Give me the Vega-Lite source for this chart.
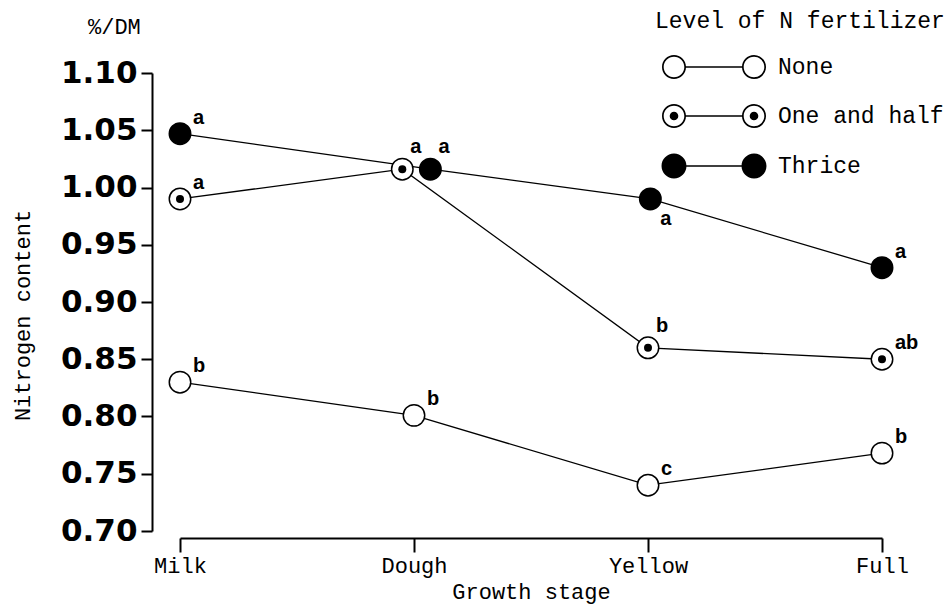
{
  "$schema": "https://vega.github.io/schema/vega-lite/v6.json",
  "width": 702,
  "height": 458,
  "autosize": {"type": "none"},
  "padding": {"left": 180, "top": 73, "right": 68, "bottom": 78},
  "background": "white",
  "title": {
    "text": "%/DM",
    "anchor": "start",
    "frame": "group",
    "align": "left",
    "font": "Liberation Mono",
    "fontSize": 22,
    "fontWeight": "normal",
    "color": "black",
    "dx": -92,
    "dy": 39,
    "offset": 10
  },
  "config": {
    "view": {"stroke": null},
    "legend": {
      "orient": "none",
      "legendX": 475,
      "legendY": -63,
      "padding": 0,
      "titleFont": "Liberation Mono",
      "titleFontSize": 23,
      "titleFontWeight": "normal",
      "titleColor": "black",
      "titlePadding": 22,
      "titleLimit": 0,
      "labelFont": "Liberation Mono",
      "labelFontSize": 23,
      "labelColor": "black",
      "labelOffset": 92,
      "labelLimit": 0,
      "symbolSize": 576,
      "symbolStrokeWidth": 0,
      "symbolFillColor": "black",
      "symbolOffset": 7,
      "rowPadding": 25
    }
  },
  "data": {
    "values": [
      {"level": "None", "stage": "Milk", "pos": 0, "value": 0.830, "letter": "b", "lp": "ur"},
      {"level": "None", "stage": "Dough", "pos": 1.0, "value": 0.801, "letter": "b", "lp": "ur"},
      {"level": "None", "stage": "Yellow", "pos": 2.0, "value": 0.740, "letter": "c", "lp": "ur"},
      {"level": "None", "stage": "Full", "pos": 3, "value": 0.768, "letter": "b", "lp": "ur"},
      {"level": "One and half", "stage": "Milk", "pos": 0, "value": 0.990, "letter": "a", "lp": "ur"},
      {"level": "One and half", "stage": "Dough", "pos": 0.95, "value": 1.016, "letter": "a", "lp": "u"},
      {"level": "One and half", "stage": "Yellow", "pos": 2.0, "value": 0.860, "letter": "b", "lp": "u"},
      {"level": "One and half", "stage": "Full", "pos": 3, "value": 0.850, "letter": "ab", "lp": "ur"},
      {"level": "Thrice", "stage": "Milk", "pos": 0, "value": 1.047, "letter": "a", "lp": "ur"},
      {"level": "Thrice", "stage": "Dough", "pos": 1.07, "value": 1.016, "letter": "a", "lp": "u"},
      {"level": "Thrice", "stage": "Yellow", "pos": 2.01, "value": 0.990, "letter": "a", "lp": "lr"},
      {"level": "Thrice", "stage": "Full", "pos": 3, "value": 0.930, "letter": "a", "lp": "ur"}
    ]
  },
  "encoding": {
    "x": {
      "field": "pos",
      "type": "quantitative",
      "scale": {"domain": [0, 3], "nice": false, "zero": false},
      "axis": {
        "values": [0, 1, 2, 3],
        "labelExpr": "['Milk','Dough','Yellow','Full'][datum.value]",
        "labelFlush": false,
        "labelOverlap": false,
        "grid": false,
        "offset": 7,
        "tickSize": 14,
        "tickWidth": 2,
        "tickColor": "black",
        "domainColor": "black",
        "domainWidth": 2,
        "labelFont": "Liberation Mono",
        "labelFontSize": 22,
        "labelColor": "black",
        "labelPadding": 3,
        "title": "Growth stage",
        "titleFont": "Liberation Mono",
        "titleFontSize": 22,
        "titleFontWeight": "normal",
        "titleColor": "black",
        "titlePadding": 5
      }
    },
    "y": {
      "field": "value",
      "type": "quantitative",
      "scale": {"domain": [0.7, 1.1], "nice": false, "zero": false},
      "axis": {
        "values": [0.7, 0.75, 0.8, 0.85, 0.9, 0.95, 1.0, 1.05, 1.1],
        "format": ".2f",
        "grid": false,
        "offset": 28,
        "tickSize": 11,
        "tickWidth": 2,
        "tickColor": "black",
        "domainColor": "black",
        "domainWidth": 2,
        "labelFont": "DejaVu Sans",
        "labelFontWeight": "bold",
        "labelFontSize": 31,
        "labelColor": "black",
        "labelPadding": 4,
        "labelOverlap": false,
        "labelBound": false,
        "labelFlush": false,
        "title": "Nitrogen content",
        "titleFont": "Liberation Mono",
        "titleFontSize": 22,
        "titleFontWeight": "normal",
        "titleColor": "black",
        "titleAngle": 270,
        "titleAlign": "center",
        "titleBaseline": "middle",
        "titleX": -130,
        "titleY": 242
      }
    }
  },
  "layer": [
    {
      "mark": {"type": "line", "color": "black", "strokeWidth": 1.3},
      "encoding": {"detail": {"field": "level"}}
    },
    {
      "transform": [{"filter": "false"}],
      "mark": {"type": "point", "filled": true, "fill": "black", "strokeWidth": 0, "size": 576, "opacity": 1},
      "encoding": {
        "shape": {
          "field": "level",
          "type": "nominal",
          "scale": {
            "domain": ["None", "One and half", "Thrice"],
            "range": [
              "M1,0A1,1,0,1,1,-1,0A1,1,0,1,1,1,0Z M0.86,0A0.86,0.86,0,1,0,-0.86,0A0.86,0.86,0,1,0,0.86,0Z M0.95,-0.06L5.717,-0.06L5.717,0.06L0.95,0.06Z M7.667,0A1,1,0,1,1,5.667,0A1,1,0,1,1,7.667,0Z M7.527,0A0.86,0.86,0,1,0,5.807,0A0.86,0.86,0,1,0,7.527,0Z",
              "M1,0A1,1,0,1,1,-1,0A1,1,0,1,1,1,0Z M0.86,0A0.86,0.86,0,1,0,-0.86,0A0.86,0.86,0,1,0,0.86,0Z M0.36,0A0.36,0.36,0,1,1,-0.36,0A0.36,0.36,0,1,1,0.36,0Z M0.95,-0.06L5.717,-0.06L5.717,0.06L0.95,0.06Z M7.667,0A1,1,0,1,1,5.667,0A1,1,0,1,1,7.667,0Z M7.527,0A0.86,0.86,0,1,0,5.807,0A0.86,0.86,0,1,0,7.527,0Z M7.027,0A0.36,0.36,0,1,1,6.307,0A0.36,0.36,0,1,1,7.027,0Z",
              "M1.04,0A1.04,1.04,0,1,1,-1.04,0A1.04,1.04,0,1,1,1.04,0Z M0.95,-0.06L5.717,-0.06L5.717,0.06L0.95,0.06Z M7.707,0A1.04,1.04,0,1,1,5.627,0A1.04,1.04,0,1,1,7.707,0Z"
            ]
          },
          "title": "Level of N fertilizer"
        }
      }
    },
    {
      "mark": {"type": "point", "filled": true, "stroke": "black", "strokeWidth": 1.5, "size": 460, "opacity": 1},
      "encoding": {
        "fill": {
          "condition": {"test": "datum.level === 'Thrice'", "value": "black"},
          "value": "white"
        }
      }
    },
    {
      "transform": [{"filter": "datum.level === 'One and half'"}],
      "mark": {"type": "point", "filled": true, "fill": "black", "strokeWidth": 0, "size": 64, "opacity": 1}
    },
    {
      "transform": [{"filter": "datum.lp === 'ur'"}],
      "mark": {"type": "text", "align": "left", "baseline": "alphabetic", "dx": 13, "dy": -10, "font": "Liberation Sans", "fontWeight": "bold", "fontSize": 20, "color": "black"},
      "encoding": {"text": {"field": "letter"}}
    },
    {
      "transform": [{"filter": "datum.lp === 'u'"}],
      "mark": {"type": "text", "align": "left", "baseline": "alphabetic", "dx": 8, "dy": -16, "font": "Liberation Sans", "fontWeight": "bold", "fontSize": 20, "color": "black"},
      "encoding": {"text": {"field": "letter"}}
    },
    {
      "transform": [{"filter": "datum.lp === 'lr'"}],
      "mark": {"type": "text", "align": "left", "baseline": "alphabetic", "dx": 10, "dy": 26, "font": "Liberation Sans", "fontWeight": "bold", "fontSize": 20, "color": "black"},
      "encoding": {"text": {"field": "letter"}}
    }
  ]
}
